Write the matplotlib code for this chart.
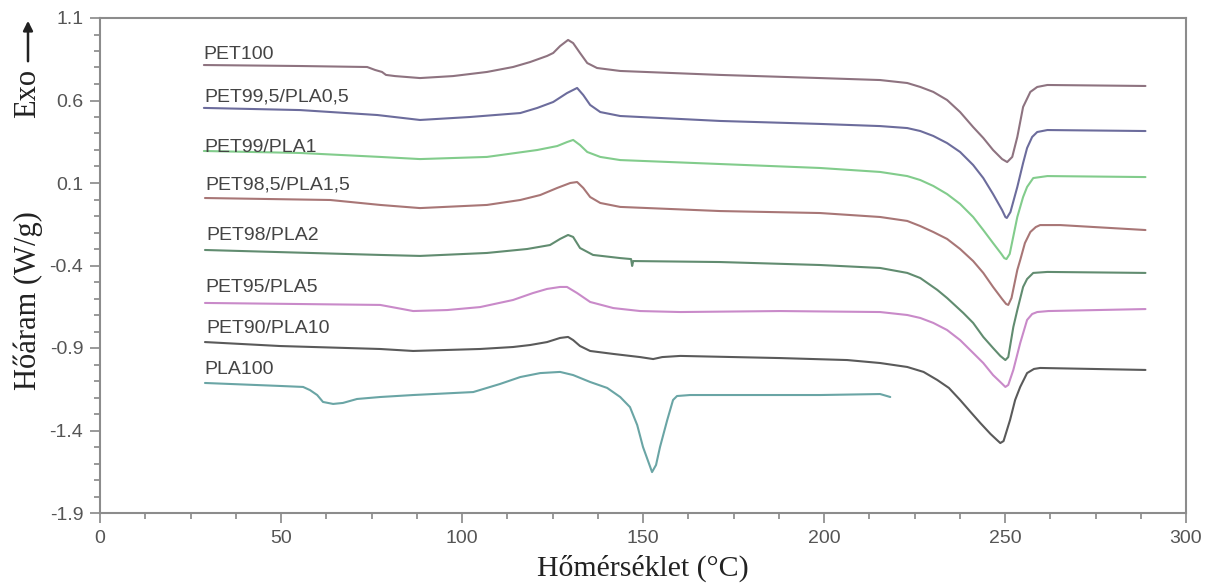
import matplotlib
matplotlib.use("Agg")
import matplotlib.pyplot as plt
from matplotlib.ticker import MultipleLocator, FormatStrFormatter

# ---- data (temperature in °C, heat flow in W/g) ----
labels = ["PET100", "PET99,5/PLA0,5", "PET99/PLA1", "PET98,5/PLA1,5",
          "PET98/PLA2", "PET95/PLA5", "PET90/PLA10", "PLA100"]

t_pet100 = [28.7, 55.3, 73.8, 76.0, 77.9, 79.0, 81.5, 88.4, 97.5, 106.9, 114.1, 118.8, 123.5, 125.2,
            127.1, 129.3, 130.7, 132.6, 134.6, 137.3, 143.7, 171.3, 198.9, 215.5, 223.0, 226.6,
            230.2, 234.0, 237.6, 241.2, 244.0, 246.7, 249.2, 250.6, 252.0, 253.4, 255.0, 257.0,
            258.9, 261.7, 288.8]
h_pet100 = [0.815, 0.809, 0.803, 0.785, 0.773, 0.755, 0.748, 0.736, 0.748, 0.773, 0.803, 0.833, 0.870,
            0.888, 0.930, 0.967, 0.948, 0.888, 0.827, 0.797, 0.779, 0.755, 0.736, 0.724, 0.706,
            0.682, 0.652, 0.603, 0.530, 0.439, 0.373, 0.300, 0.245, 0.227, 0.258, 0.379, 0.561,
            0.652, 0.682, 0.694, 0.688]

t_pet995 = [28.7, 55.3, 76.6, 88.4, 102.2, 116.1, 120.8, 125.2, 129.0, 131.8, 133.5, 135.4, 138.2,
            143.7, 171.3, 198.9, 215.5, 223.0, 226.6, 230.2, 234.0, 237.6, 241.2, 244.0, 246.7,
            249.2, 250.1, 250.5, 251.5, 253.4, 255.0, 256.1, 257.5, 258.9, 261.7, 288.8]
h_pet995 = [0.555, 0.542, 0.512, 0.482, 0.500, 0.524, 0.555, 0.591, 0.645, 0.676, 0.633, 0.573, 0.530,
            0.506, 0.476, 0.458, 0.445, 0.433, 0.415, 0.385, 0.342, 0.288, 0.209, 0.130, 0.033,
            -0.064, -0.106, -0.112, -0.076, 0.076, 0.221, 0.312, 0.379, 0.409, 0.421, 0.415]

t_pet99 = [28.7, 55.3, 77.4, 88.4, 106.9, 120.8, 126.3, 129.0, 130.7, 132.6, 134.6, 138.2, 143.7,
           171.3, 198.9, 215.5, 223.0, 226.6, 230.2, 234.0, 237.6, 241.2, 244.0, 246.7, 249.0,
           249.8, 250.4, 251.3, 253.4, 255.0, 256.1, 257.8, 261.7, 288.8]
h_pet99 = [0.294, 0.282, 0.258, 0.245, 0.258, 0.300, 0.324, 0.348, 0.361, 0.330, 0.288, 0.258, 0.239,
           0.215, 0.191, 0.167, 0.142, 0.118, 0.082, 0.033, -0.027, -0.106, -0.185, -0.264, -0.330,
           -0.355, -0.361, -0.330, -0.106, 0.015, 0.076, 0.130, 0.142, 0.136]

t_pet985 = [29.0, 63.6, 77.4, 88.4, 106.9, 116.1, 121.6, 126.3, 129.9, 131.8, 133.5, 135.4, 138.2,
            143.7, 171.3, 198.9, 215.5, 223.0, 226.6, 230.2, 234.0, 237.6, 241.2, 244.0, 246.7,
            249.2, 250.3, 250.9, 251.8, 253.4, 254.2, 255.5, 257.0, 258.5, 259.7, 265.3, 288.8]
h_pet985 = [0.009, -0.003, -0.033, -0.052, -0.033, -0.003, 0.027, 0.070, 0.100, 0.106, 0.070, 0.015,
            -0.021, -0.045, -0.070, -0.082, -0.106, -0.130, -0.161, -0.197, -0.239, -0.300, -0.373,
            -0.445, -0.530, -0.603, -0.633, -0.639, -0.597, -0.427, -0.367, -0.264, -0.197, -0.167,
            -0.155, -0.155, -0.185]

t_pet98 = [29.0, 77.4, 88.4, 106.9, 118.0, 124.3, 127.1, 129.3, 130.7, 132.6, 136.2, 143.7, 146.7,
           147.0, 147.3, 171.3, 198.9, 215.5, 223.0, 226.6, 231.3, 234.0, 238.5, 241.2, 244.0,
           246.7, 248.7, 250.1, 250.9, 252.3, 253.4, 255.0, 256.1, 257.8, 261.7, 288.8]
h_pet98 = [-0.306, -0.336, -0.342, -0.324, -0.300, -0.276, -0.239, -0.215, -0.227, -0.294, -0.336,
           -0.355, -0.361, -0.403, -0.373, -0.379, -0.397, -0.415, -0.445, -0.476, -0.548, -0.597,
           -0.688, -0.748, -0.833, -0.900, -0.948, -0.973, -0.955, -0.773, -0.670, -0.530, -0.482,
           -0.445, -0.439, -0.445]

t_pet95 = [29.0, 77.4, 82.1, 86.5, 95.9, 105.0, 114.1, 119.6, 123.5, 127.1, 129.0, 131.8, 135.4,
           141.8, 149.2, 160.3, 187.9, 215.5, 223.0, 226.6, 230.2, 234.0, 237.6, 241.2, 244.0,
           246.7, 248.7, 250.1, 250.9, 252.3, 254.2, 256.1, 257.5, 258.9, 262.0, 288.8]
h_pet95 = [-0.627, -0.639, -0.658, -0.676, -0.670, -0.652, -0.609, -0.567, -0.542, -0.530, -0.530,
           -0.567, -0.621, -0.658, -0.676, -0.682, -0.676, -0.682, -0.700, -0.718, -0.748, -0.791,
           -0.852, -0.930, -0.991, -1.064, -1.106, -1.136, -1.124, -1.033, -0.870, -0.730, -0.694,
           -0.682, -0.676, -0.664]

t_pet90 = [29.0, 49.7, 77.4, 86.5, 105.0, 114.1, 118.8, 123.5, 127.1, 129.3, 130.7, 132.6, 135.4,
           141.8, 149.2, 152.8, 155.3, 160.3, 187.9, 206.4, 215.5, 223.0, 227.5, 231.3, 234.5,
           237.6, 240.5, 243.2, 246.0, 247.8, 248.7, 249.6, 251.4, 252.8, 254.2, 256.1, 258.0,
           259.7, 288.8]
h_pet90 = [-0.864, -0.888, -0.906, -0.918, -0.906, -0.894, -0.882, -0.864, -0.839, -0.833, -0.852,
           -0.888, -0.918, -0.936, -0.955, -0.967, -0.955, -0.948, -0.961, -0.973, -0.991, -1.015,
           -1.045, -1.094, -1.142, -1.215, -1.288, -1.355, -1.421, -1.458, -1.476, -1.464, -1.336,
           -1.215, -1.136, -1.052, -1.027, -1.021, -1.033]

t_pla100 = [29.0, 49.7, 56.1, 58.0, 60.0, 61.6, 64.4, 67.1, 71.0, 77.4, 86.5, 103.1, 110.5, 116.1,
            121.6, 127.1, 130.7, 135.4, 140.1, 143.7, 146.4, 148.4, 150.0, 151.5, 152.5, 153.6,
            154.7, 156.7, 158.3, 159.4, 163.0, 198.9, 215.5, 218.3]
h_pla100 = [-1.112, -1.130, -1.136, -1.155, -1.185, -1.227, -1.239, -1.233, -1.209, -1.197, -1.185,
            -1.167, -1.118, -1.076, -1.052, -1.045, -1.064, -1.106, -1.142, -1.197, -1.258, -1.367,
            -1.500, -1.591, -1.652, -1.609, -1.500, -1.336, -1.215, -1.191, -1.185, -1.185, -1.179,
            -1.197]

series_t = [t_pet100, t_pet995, t_pet99, t_pet985, t_pet98, t_pet95, t_pet90, t_pla100]
series_h = [h_pet100, h_pet995, h_pet99, h_pet985, h_pet98, h_pet95, h_pet90, h_pla100]
colors = ["#8e7380", "#6c6c9c", "#82cc8c", "#a87676", "#618c70", "#c98ac9", "#5a5a5a", "#6aa5a5"]
label_pos = [(28.5, 0.876), (28.7, 0.621), (28.7, 0.318), (29.2, 0.088),
             (29.5, -0.221), (29.2, -0.536), (29.5, -0.779), (28.7, -1.033)]

x_ticks = [0, 50, 100, 150, 200, 250, 300]
y_ticks = [-1.9, -1.4, -0.9, -0.4, 0.1, 0.6, 1.1]

# ---- figure ----
W, H = 1209, 586
fig = plt.figure(figsize=(W / 100, H / 100), dpi=100)
ax = fig.add_axes([100 / W, 1 - 513 / H, 1086 / W, 495 / H])

for t, h, c in zip(series_t, series_h, colors):
    ax.plot(t, h, color=c, lw=1.5, solid_joinstyle="round", solid_capstyle="round")

for lab, (lx, ly) in zip(labels, label_pos):
    ax.text(lx, ly, lab, fontsize=14, family="Liberation Sans", color="#444444",
            va="center", ha="left")

ax.set_xlim(0, 300)
ax.set_ylim(-1.9, 1.1)
ax.set_xticks(x_ticks)
ax.set_yticks(y_ticks)
ax.xaxis.set_minor_locator(MultipleLocator(12.5))
ax.yaxis.set_minor_locator(MultipleLocator(0.1))
ax.yaxis.set_major_formatter(FormatStrFormatter("%.1f"))
ax.tick_params(which="both", direction="out", color="#888888", width=1.2)
ax.tick_params(which="major", length=7, pad=5, labelsize=14, labelcolor="#555555")
ax.tick_params(which="minor", length=4)
for lab in ax.get_xticklabels() + ax.get_yticklabels():
    lab.set_family("Liberation Sans")
for s in ax.spines.values():
    s.set_color("#8c8c8c")
    s.set_linewidth(1.5)

ax.set_xlabel("Hőmérséklet (°C)", family="Liberation Serif", fontsize=21.5,
              color="#222222", labelpad=6)

# y label composed of "Exo ->" and the quantity
fig.text(28 / W, 1 - 301 / H, "Hőáram (W/g)", family="Liberation Serif", fontsize=22,
         rotation=90, ha="center", va="center", color="#222222")
fig.text(28 / W, 1 - 93 / H, "Exo", family="Liberation Serif", fontsize=22,
         rotation=90, ha="center", va="center", color="#222222")
ax.annotate("", xy=(28 / W, 1 - 18 / H), xytext=(28 / W, 1 - 64 / H),
            xycoords="figure fraction", textcoords="figure fraction",
            arrowprops=dict(arrowstyle="-|>", color="#222222", lw=1.8, mutation_scale=14))

fig.savefig("out.png", dpi=100, facecolor="white")
